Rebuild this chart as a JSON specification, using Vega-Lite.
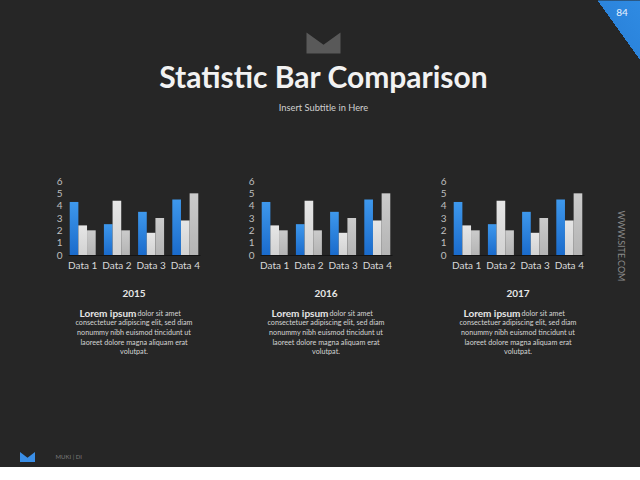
{
  "$schema": "https://vega.github.io/schema/vega-lite/v6.json",
  "background": "#262626",
  "padding": 0,
  "config": {
    "view": {"stroke": null},
    "font": "Lato",
    "text": {"font": "Lato"}
  },
  "datasets": {
    "bars": [
      {"year": 2015, "cat": "Data 1", "series": "S1", "value": 4.3},
      {"year": 2015, "cat": "Data 2", "series": "S1", "value": 2.5},
      {"year": 2015, "cat": "Data 3", "series": "S1", "value": 3.5},
      {"year": 2015, "cat": "Data 4", "series": "S1", "value": 4.5},
      {"year": 2015, "cat": "Data 1", "series": "S2", "value": 2.4},
      {"year": 2015, "cat": "Data 2", "series": "S2", "value": 4.4},
      {"year": 2015, "cat": "Data 3", "series": "S2", "value": 1.8},
      {"year": 2015, "cat": "Data 4", "series": "S2", "value": 2.8},
      {"year": 2015, "cat": "Data 1", "series": "S3", "value": 2.0},
      {"year": 2015, "cat": "Data 2", "series": "S3", "value": 2.0},
      {"year": 2015, "cat": "Data 3", "series": "S3", "value": 3.0},
      {"year": 2015, "cat": "Data 4", "series": "S3", "value": 5.0},
      {"year": 2016, "cat": "Data 1", "series": "S1", "value": 4.3},
      {"year": 2016, "cat": "Data 2", "series": "S1", "value": 2.5},
      {"year": 2016, "cat": "Data 3", "series": "S1", "value": 3.5},
      {"year": 2016, "cat": "Data 4", "series": "S1", "value": 4.5},
      {"year": 2016, "cat": "Data 1", "series": "S2", "value": 2.4},
      {"year": 2016, "cat": "Data 2", "series": "S2", "value": 4.4},
      {"year": 2016, "cat": "Data 3", "series": "S2", "value": 1.8},
      {"year": 2016, "cat": "Data 4", "series": "S2", "value": 2.8},
      {"year": 2016, "cat": "Data 1", "series": "S3", "value": 2.0},
      {"year": 2016, "cat": "Data 2", "series": "S3", "value": 2.0},
      {"year": 2016, "cat": "Data 3", "series": "S3", "value": 3.0},
      {"year": 2016, "cat": "Data 4", "series": "S3", "value": 5.0},
      {"year": 2017, "cat": "Data 1", "series": "S1", "value": 4.3},
      {"year": 2017, "cat": "Data 2", "series": "S1", "value": 2.5},
      {"year": 2017, "cat": "Data 3", "series": "S1", "value": 3.5},
      {"year": 2017, "cat": "Data 4", "series": "S1", "value": 4.5},
      {"year": 2017, "cat": "Data 1", "series": "S2", "value": 2.4},
      {"year": 2017, "cat": "Data 2", "series": "S2", "value": 4.4},
      {"year": 2017, "cat": "Data 3", "series": "S2", "value": 1.8},
      {"year": 2017, "cat": "Data 4", "series": "S2", "value": 2.8},
      {"year": 2017, "cat": "Data 1", "series": "S3", "value": 2.0},
      {"year": 2017, "cat": "Data 2", "series": "S3", "value": 2.0},
      {"year": 2017, "cat": "Data 3", "series": "S3", "value": 3.0},
      {"year": 2017, "cat": "Data 4", "series": "S3", "value": 5.0}
    ],
    "lorem": [
      {"line": 0, "part": "bold", "text": "Lorem ipsum"},
      {"line": 0, "part": "rest", "text": "dolor sit amet"},
      {"line": 1, "part": "body", "text": "consectetuer adipiscing elit, sed diam"},
      {"line": 2, "part": "body", "text": "nonummy nibh euismod tincidunt ut"},
      {"line": 3, "part": "body", "text": "laoreet dolore magna aliquam erat"},
      {"line": 4, "part": "body", "text": "volutpat."}
    ]
  },
  "vconcat": [
    {
      "spacing": 62,
      "vconcat": [
        {
          "spacing": 0,
          "hconcat": [
            {"width": 50, "height": 1, "data": {"values": []}, "mark": "point"},
            {
              "width": 547,
              "height": 86,
              "data": {"values": [{"logo": "M"}]},
              "title": {
                "text": "Statistic Bar Comparison",
                "subtitle": "Insert Subtitle in Here",
                "orient": "bottom",
                "anchor": "middle",
                "offset": -22,
                "font": "Lato",
                "fontSize": 30,
                "fontWeight": "bold",
                "color": "#f2f2f2",
                "subtitleFont": "Lato",
                "subtitleFontSize": 9.3,
                "subtitleColor": "#d0d0d0",
                "subtitlePadding": 10
              },
              "mark": {"type": "point", "shape": "M -1 -0.62 L 0 0.1 L 1 -0.62 L 1 0.62 L -1 0.62 Z", "size": 1156, "filled": true, "color": "#595959", "opacity": 1, "strokeWidth": 0},
              "encoding": {}
            },
            {
              "width": 43,
              "height": 60,
              "view": {"fill": {"gradient": "linear", "x1": 0, "y1": 1, "x2": 1, "y2": 0, "stops": [{"offset": 0, "color": "#262626"}, {"offset": 0.5, "color": "#262626"}, {"offset": 0.5, "color": "#2b84dc"}, {"offset": 1, "color": "#2f8be3"}]}, "stroke": "#2b84dc", "strokeOpacity": 0, "strokeWidth": 1},
              "data": {"values": [{"page": "84"}]},
              "mark": {"type": "text", "dx": 3.5, "dy": -17, "fontSize": 10, "color": "#eaf3ff"},
              "encoding": {"text": {"field": "page"}}
            }
          ]
        },
        {
          "spacing": 20,
          "hconcat": [
            {
              "spacing": 48,
              "hconcat": [
                {"width": 8, "height": 1, "data": {"values": []}, "mark": "point"},
                {
                  "spacing": 18,
                  "center": true,
                  "vconcat": [
                    {
                      "width": 132, "height": 74,
                      "data": {"name": "bars"},
                      "transform": [{"filter": "datum.year == 2015"}],
                      "encoding": {
                        "x": {"field": "cat", "type": "nominal", "scale": {"paddingInner": 0.24, "paddingOuter": 0.05}, "axis": {"title": null, "labelAngle": 0, "ticks": false, "domainColor": "#141414", "labelColor": "#d9d9d9", "labelFontSize": 10, "labelPadding": 5}},
                        "xOffset": {"field": "series", "type": "nominal"},
                        "y": {"field": "value", "type": "quantitative", "scale": {"domain": [0, 6]}, "axis": {"title": null, "values": [0, 1, 2, 3, 4, 5, 6], "ticks": false, "domain": false, "grid": false, "labelOverlap": false, "labelColor": "#bfbfbf", "labelFontSize": 10, "labelPadding": 6}}
                      },
                      "layer": [
                        {"transform": [{"filter": "datum.series == 'S1'"}], "mark": {"type": "bar", "color": {"gradient": "linear", "x1": 0, "y1": 0, "x2": 0, "y2": 1, "stops": [{"offset": 0, "color": "#3e98ec"}, {"offset": 1, "color": "#1a6bcc"}]}}},
                        {"transform": [{"filter": "datum.series == 'S2'"}], "mark": {"type": "bar", "color": {"gradient": "linear", "x1": 0, "y1": 0, "x2": 0, "y2": 1, "stops": [{"offset": 0, "color": "#e6e6e6"}, {"offset": 1, "color": "#d2d2d2"}]}}},
                        {"transform": [{"filter": "datum.series == 'S3'"}], "mark": {"type": "bar", "color": {"gradient": "linear", "x1": 0, "y1": 0, "x2": 0, "y2": 1, "stops": [{"offset": 0, "color": "#cbcbcb"}, {"offset": 1, "color": "#b4b4b4"}]}}}
                      ]
                    },
                    {
                      "width": 132, "height": 48,
                      "data": {"name": "lorem"},
                      "title": {"text": "2015", "fontSize": 10, "fontWeight": "bold", "color": "#e6e6e6", "offset": 10, "anchor": "middle"},
                      "encoding": {"y": {"field": "line", "type": "ordinal", "axis": null, "scale": {"type": "point", "padding": 0.5}}, "text": {"field": "text"}},
                      "layer": [
                        {"transform": [{"filter": "datum.part == 'bold'"}], "mark": {"type": "text", "align": "right", "dx": 2.5, "fontSize": 10, "fontWeight": "bold", "color": "#e6e6e6"}},
                        {"transform": [{"filter": "datum.part == 'rest'"}], "mark": {"type": "text", "align": "left", "dx": 3.5, "fontSize": 7.2, "color": "#d4d4d4"}},
                        {"transform": [{"filter": "datum.part == 'body'"}], "mark": {"type": "text", "align": "center", "fontSize": 7.2, "color": "#d4d4d4"}}
                      ]
                    }
                  ]
                },
                {
                  "spacing": 18,
                  "center": true,
                  "vconcat": [
                    {
                      "width": 132, "height": 74,
                      "data": {"name": "bars"},
                      "transform": [{"filter": "datum.year == 2016"}],
                      "encoding": {
                        "x": {"field": "cat", "type": "nominal", "scale": {"paddingInner": 0.24, "paddingOuter": 0.05}, "axis": {"title": null, "labelAngle": 0, "ticks": false, "domainColor": "#141414", "labelColor": "#d9d9d9", "labelFontSize": 10, "labelPadding": 5}},
                        "xOffset": {"field": "series", "type": "nominal"},
                        "y": {"field": "value", "type": "quantitative", "scale": {"domain": [0, 6]}, "axis": {"title": null, "values": [0, 1, 2, 3, 4, 5, 6], "ticks": false, "domain": false, "grid": false, "labelOverlap": false, "labelColor": "#bfbfbf", "labelFontSize": 10, "labelPadding": 6}}
                      },
                      "layer": [
                        {"transform": [{"filter": "datum.series == 'S1'"}], "mark": {"type": "bar", "color": {"gradient": "linear", "x1": 0, "y1": 0, "x2": 0, "y2": 1, "stops": [{"offset": 0, "color": "#3e98ec"}, {"offset": 1, "color": "#1a6bcc"}]}}},
                        {"transform": [{"filter": "datum.series == 'S2'"}], "mark": {"type": "bar", "color": {"gradient": "linear", "x1": 0, "y1": 0, "x2": 0, "y2": 1, "stops": [{"offset": 0, "color": "#e6e6e6"}, {"offset": 1, "color": "#d2d2d2"}]}}},
                        {"transform": [{"filter": "datum.series == 'S3'"}], "mark": {"type": "bar", "color": {"gradient": "linear", "x1": 0, "y1": 0, "x2": 0, "y2": 1, "stops": [{"offset": 0, "color": "#cbcbcb"}, {"offset": 1, "color": "#b4b4b4"}]}}}
                      ]
                    },
                    {
                      "width": 132, "height": 48,
                      "data": {"name": "lorem"},
                      "title": {"text": "2016", "fontSize": 10, "fontWeight": "bold", "color": "#e6e6e6", "offset": 10, "anchor": "middle"},
                      "encoding": {"y": {"field": "line", "type": "ordinal", "axis": null, "scale": {"type": "point", "padding": 0.5}}, "text": {"field": "text"}},
                      "layer": [
                        {"transform": [{"filter": "datum.part == 'bold'"}], "mark": {"type": "text", "align": "right", "dx": 2.5, "fontSize": 10, "fontWeight": "bold", "color": "#e6e6e6"}},
                        {"transform": [{"filter": "datum.part == 'rest'"}], "mark": {"type": "text", "align": "left", "dx": 3.5, "fontSize": 7.2, "color": "#d4d4d4"}},
                        {"transform": [{"filter": "datum.part == 'body'"}], "mark": {"type": "text", "align": "center", "fontSize": 7.2, "color": "#d4d4d4"}}
                      ]
                    }
                  ]
                },
                {
                  "spacing": 18,
                  "center": true,
                  "vconcat": [
                    {
                      "width": 132, "height": 74,
                      "data": {"name": "bars"},
                      "transform": [{"filter": "datum.year == 2017"}],
                      "encoding": {
                        "x": {"field": "cat", "type": "nominal", "scale": {"paddingInner": 0.24, "paddingOuter": 0.05}, "axis": {"title": null, "labelAngle": 0, "ticks": false, "domainColor": "#141414", "labelColor": "#d9d9d9", "labelFontSize": 10, "labelPadding": 5}},
                        "xOffset": {"field": "series", "type": "nominal"},
                        "y": {"field": "value", "type": "quantitative", "scale": {"domain": [0, 6]}, "axis": {"title": null, "values": [0, 1, 2, 3, 4, 5, 6], "ticks": false, "domain": false, "grid": false, "labelOverlap": false, "labelColor": "#bfbfbf", "labelFontSize": 10, "labelPadding": 6}}
                      },
                      "layer": [
                        {"transform": [{"filter": "datum.series == 'S1'"}], "mark": {"type": "bar", "color": {"gradient": "linear", "x1": 0, "y1": 0, "x2": 0, "y2": 1, "stops": [{"offset": 0, "color": "#3e98ec"}, {"offset": 1, "color": "#1a6bcc"}]}}},
                        {"transform": [{"filter": "datum.series == 'S2'"}], "mark": {"type": "bar", "color": {"gradient": "linear", "x1": 0, "y1": 0, "x2": 0, "y2": 1, "stops": [{"offset": 0, "color": "#e6e6e6"}, {"offset": 1, "color": "#d2d2d2"}]}}},
                        {"transform": [{"filter": "datum.series == 'S3'"}], "mark": {"type": "bar", "color": {"gradient": "linear", "x1": 0, "y1": 0, "x2": 0, "y2": 1, "stops": [{"offset": 0, "color": "#cbcbcb"}, {"offset": 1, "color": "#b4b4b4"}]}}}
                      ]
                    },
                    {
                      "width": 132, "height": 48,
                      "data": {"name": "lorem"},
                      "title": {"text": "2017", "fontSize": 10, "fontWeight": "bold", "color": "#e6e6e6", "offset": 10, "anchor": "middle"},
                      "encoding": {"y": {"field": "line", "type": "ordinal", "axis": null, "scale": {"type": "point", "padding": 0.5}}, "text": {"field": "text"}},
                      "layer": [
                        {"transform": [{"filter": "datum.part == 'bold'"}], "mark": {"type": "text", "align": "right", "dx": 2.5, "fontSize": 10, "fontWeight": "bold", "color": "#e6e6e6"}},
                        {"transform": [{"filter": "datum.part == 'rest'"}], "mark": {"type": "text", "align": "left", "dx": 3.5, "fontSize": 7.2, "color": "#d4d4d4"}},
                        {"transform": [{"filter": "datum.part == 'body'"}], "mark": {"type": "text", "align": "center", "fontSize": 7.2, "color": "#d4d4d4"}}
                      ]
                    }
                  ]
                }
              ]
            },
            {
              "width": 34, "height": 130,
              "data": {"values": [{"url": "WWW.SITE.COM"}]},
              "mark": {"type": "text", "angle": 90, "fontSize": 9, "color": "#8a8a8a"},
              "encoding": {"text": {"field": "url"}}
            }
          ]
        }
      ]
    },
    {
      "width": 55, "height": 20,
      "data": {"values": [{"brand": "MUKI | DI"}]},
      "layer": [
        {"mark": {"type": "point", "shape": "M -1 -0.667 L 0 0.1 L 1 -0.667 L 1 0.667 L -1 0.667 Z", "size": 225, "filled": true, "color": "#3a8ee6", "opacity": 1, "strokeWidth": 0}, "encoding": {}},
        {"mark": {"type": "text", "align": "left", "dx": 28, "fontSize": 6, "color": "#7a7a7a"}, "encoding": {"text": {"field": "brand"}}}
      ]
    }
  ],
  "spacing": 90
}
